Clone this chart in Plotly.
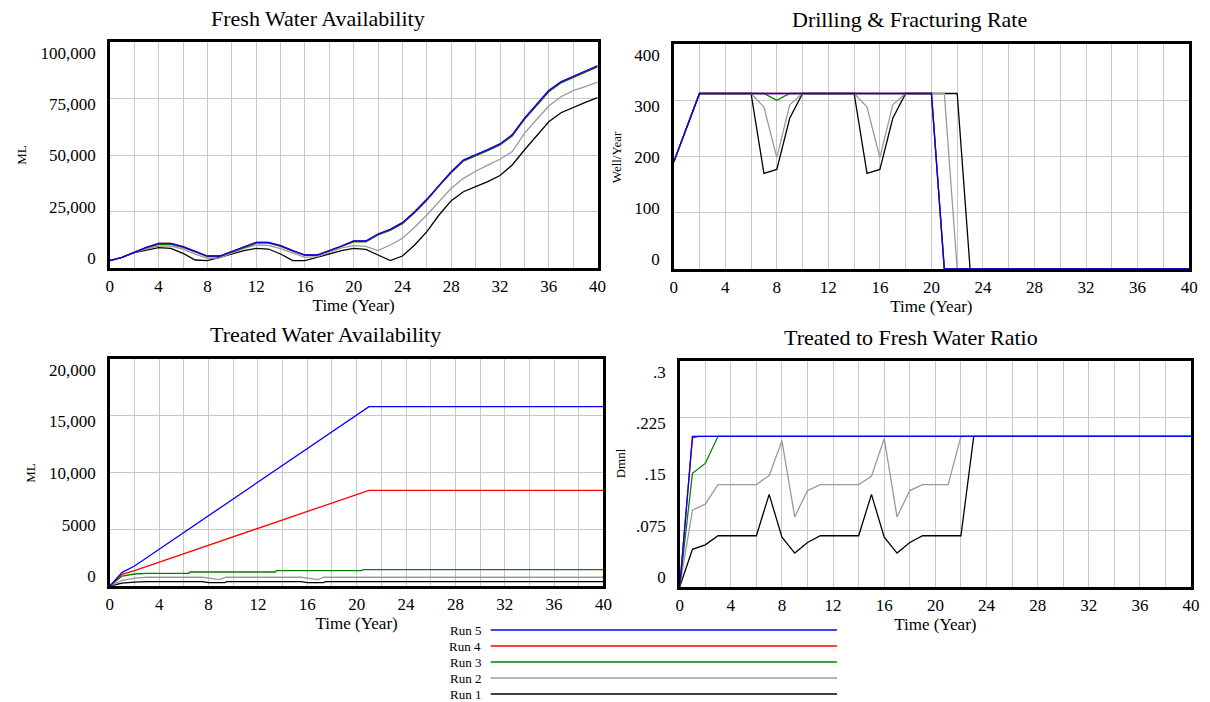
import plotly.graph_objects as go

W, H = 1210, 702
FONT = "Liberation Serif, Times New Roman, serif"

# ---------------- data ----------------
run_names = ["Run 1", "Run 2", "Run 3", "Run 4", "Run 5"]
run_colors = ["#000000", "#9a9a9a", "#008000", "#ff0000", "#0000ff"]

years = [0, 1, 2, 3, 4, 5, 6, 7, 8, 9, 10, 11, 12, 13, 14, 15, 16, 17, 18, 19, 20,
         21, 22, 23, 24, 25, 26, 27, 28, 29, 30, 31, 32, 33, 34, 35, 36, 37, 38, 39, 40]

# Fresh Water Availability (ML), yearly
fresh_run5 = [3250, 4720, 6930, 9150, 10920, 10920, 9440, 7230, 5310, 5310, 7230, 9440, 11360, 11360,
              9880, 7670, 5750, 5750, 7670, 9735, 11950, 11950, 15045, 17110, 20060, 24930, 30390,
              36730, 42630, 47800, 50000, 52400, 54900, 58900, 66200, 72300, 78500, 82400, 84700,
              87000, 89500]
fresh_run4 = fresh_run5
fresh_run3 = [3250, 4720, 6930, 9000, 10470, 10470, 9100, 7000, 5050, 5050, 7050, 9200, 11000, 11000,
              9600, 7450, 5600, 5600, 7500, 9500, 11600, 11600, 14600, 16650, 19600, 24450, 29900,
              36250, 42150, 47300, 49500, 51900, 54400, 58400, 65700, 71800, 78000, 81900, 84200,
              86500, 89000]
fresh_run2 = [3250, 4720, 6800, 8500, 9735, 9735, 8300, 6100, 4280, 4500, 6600, 8700, 10180, 10000,
              8600, 6500, 4700, 5000, 7000, 8900, 9880, 9590, 7670, 10180, 13130, 18000, 23450,
              29340, 35260, 39680, 42800, 45500, 48100, 51500, 59600, 65700, 71700, 75800, 78500,
              80300, 82200]
fresh_run1 = [3250, 4720, 6800, 7965, 8990, 8700, 6490, 3540, 3250, 4720, 6200, 7670, 8700, 8400,
              6200, 3250, 3250, 4720, 6200, 7670, 8700, 8260, 5750, 3250, 5310, 10180, 16080,
              23450, 29780, 33760, 35980, 38200, 40900, 45600, 52200, 58500, 64700, 68700, 71100,
              73300, 75400]

# Drilling & Fracturing Rate (Well/Year), breakpoints
drill_t5 = [0, 2, 20, 21, 40]
drill_run5 = [190, 312, 312, 0, 0]
drill_t4 = [0, 2, 20, 21, 40]
drill_run4 = [190, 312, 312, 0, 0]
drill_t3 = [0, 2, 7, 8, 9, 20, 21, 40]
drill_run3 = [190, 312, 312, 300, 312, 312, 0, 0]
drill_t2 = [0, 2, 6, 7, 8, 9, 10, 14, 15, 16, 17, 18, 21, 22, 40]
drill_run2 = [190, 312, 312, 288, 198, 292, 312, 312, 288, 198, 292, 312, 312, 0, 0]
drill_t1 = [0, 2, 6, 7, 8, 9, 10, 14, 15, 16, 17, 18, 22, 23, 40]
drill_run1 = [190, 312, 312, 170, 177, 268, 312, 312, 170, 177, 268, 312, 312, 0, 0]

# Treated Water Availability (ML), breakpoints
treat_t5 = [0, 1, 2, 14, 21, 40]
treat_run5 = [0, 1200, 1760, 10630, 15800, 15800]
treat_t4 = [0, 1, 2, 21, 40]
treat_run4 = [0, 1030, 1350, 8430, 8430]
treat_t3 = [0, 1, 2, 3, 6.4, 6.5, 13.4, 13.5, 20.4, 20.5, 40]
treat_run3 = [0, 880, 1057, 1120, 1120, 1233, 1233, 1350, 1350, 1440, 1440]
treat_t2 = [0, 1, 2, 3, 7.5, 8.9, 9.4, 15.5, 16.9, 17.3, 40]
treat_run2 = [0, 500, 700, 770, 770, 560, 770, 770, 560, 770, 770]
treat_t1 = [0, 1, 2, 3, 7.5, 8, 9.3, 9.5, 15.5, 16, 17.3, 17.5, 40]
treat_run1 = [0, 250, 340, 380, 380, 300, 300, 380, 380, 300, 300, 380, 380]

# Treated to Fresh Water Ratio (Dmnl), breakpoints
ratio_t5 = [0, 1, 40]
ratio_run5 = [0, 0.2, 0.2]
ratio_t4 = [0, 1, 1.5, 40]
ratio_run4 = [0, 0.198, 0.2, 0.2]
ratio_t3 = [0, 1, 2, 3, 40]
ratio_run3 = [0, 0.151, 0.164, 0.2, 0.2]
ratio_t2 = [0, 1, 2, 3, 6, 7, 8, 9, 10, 11, 14, 15, 16, 17, 18, 19, 21, 22, 40]
ratio_run2 = [0, 0.102, 0.110, 0.136, 0.136, 0.148, 0.194, 0.093, 0.128, 0.136, 0.136, 0.147,
              0.197, 0.093, 0.128, 0.136, 0.136, 0.2, 0.2]
ratio_t1 = [0, 1, 2, 3, 6, 7, 8, 9, 10, 11, 14, 15, 16, 17, 18, 19, 22, 23, 40]
ratio_run1 = [0, 0.050, 0.056, 0.068, 0.068, 0.123, 0.066, 0.045, 0.059, 0.068, 0.068, 0.123,
              0.066, 0.045, 0.059, 0.068, 0.068, 0.2, 0.2]

titles = ["Fresh Water Availability", "Drilling & Fracturing Rate",
          "Treated Water Availability", "Treated to Fresh Water Ratio"]
y_titles = ["ML", "Well/Year", "ML", "Dmnl"]
y_ticks = [[0, 25000, 50000, 75000, 100000], [0, 100, 200, 300, 400],
           [0, 5000, 10000, 15000, 20000], [0, 0.075, 0.15, 0.225, 0.3]]
y_ticktext = [["0", "25,000", "50,000", "75,000", "100,000"], ["0", "100", "200", "300", "400"],
              ["0", "5000", "10,000", "15,000", "20,000"], ["0", ".075", ".15", ".225", ".3"]]
x_title = "Time (Year)"

panels = [
    [(years, fresh_run1), (years, fresh_run2), (years, fresh_run3), (years, fresh_run4), (years, fresh_run5)],
    [(drill_t1, drill_run1), (drill_t2, drill_run2), (drill_t3, drill_run3), (drill_t4, drill_run4), (drill_t5, drill_run5)],
    [(treat_t1, treat_run1), (treat_t2, treat_run2), (treat_t3, treat_run3), (treat_t4, treat_run4), (treat_t5, treat_run5)],
    [(ratio_t1, ratio_run1), (ratio_t2, ratio_run2), (ratio_t3, ratio_run3), (ratio_t4, ratio_run4), (ratio_t5, ratio_run5)],
]

# ---------------- layout geometry (pixels) ----------------
boxes = [(107, 600, 42, 268), (677, 1198, 44, 269), (107, 606, 359, 586), (683, 1200, 361, 587)]
title_pos = [(317, 18), (915, 20), (325, 335), (917, 337)]
ytitle_pos = [(18, 155), (619, 157), (26, 473), (623, 463)]

GRID = "#c8c8c8"
fig = go.Figure()
layout = dict(width=W, height=H, margin=dict(l=0, r=0, t=0, b=0), autosize=False,
              paper_bgcolor="white", plot_bgcolor="white", showlegend=False,
              font=dict(family=FONT, color="black"))
annotations = []
shapes = []

for i in range(4):
    n = i + 1
    xs = "x" if n == 1 else f"x{n}"
    ys = "y" if n == 1 else f"y{n}"
    yl = f"y{n + 4}"
    xkey = "xaxis" if n == 1 else f"xaxis{n}"
    ykey = "yaxis" if n == 1 else f"yaxis{n}"
    lkey = f"yaxis{n + 4}"
    x0, x1, y0, y1 = boxes[i]
    ymin, ymax = y_ticks[i][0], y_ticks[i][-1]
    span = ymax - ymin

    for k, (t, v) in enumerate(panels[i]):
        fig.add_trace(go.Scatter(x=t, y=v, mode="lines", name=run_names[k],
                                 line=dict(color=run_colors[k], width=1.3),
                                 xaxis=xs, yaxis=ys, hoverinfo="skip"))
    fig.add_trace(go.Scatter(x=[], y=[], mode="lines", xaxis=xs, yaxis=yl,
                             showlegend=False, hoverinfo="skip"))

    layout[xkey] = dict(domain=[x0 / W, x1 / W], anchor=ys, range=[0, 40],
                        tick0=0, dtick=4, ticks="", showgrid=True, gridcolor=GRID, gridwidth=1.3,
                        minor=dict(dtick=2, tick0=0, showgrid=True, gridcolor=GRID, gridwidth=1.3),
                        showline=True, mirror=True, linecolor="black", linewidth=2.5,
                        zeroline=False, tickfont=dict(size=17), ticklabelstandoff=1,
                        title=dict(text=x_title, font=dict(size=17), standoff=0))
    layout[ykey] = dict(domain=[1 - y1 / H, 1 - y0 / H], anchor=xs, range=[ymin, ymax],
                        tickvals=y_ticks[i], showticklabels=False, ticks="",
                        showgrid=True, gridcolor=GRID, gridwidth=1.3,
                        showline=True, mirror=True, linecolor="black", linewidth=2.5,
                        zeroline=False)
    layout[lkey] = dict(overlaying=ys, anchor=xs, side="left",
                        range=[ymin - 0.048 * span, ymax + 0.053 * span],
                        tickvals=y_ticks[i], ticktext=y_ticktext[i], ticks="",
                        showgrid=False, showline=False, zeroline=False,
                        tickfont=dict(size=17), ticklabelstandoff=13)
    tx, ty = title_pos[i]
    annotations.append(dict(text=titles[i], x=tx / W, y=1 - ty / H, xref="paper", yref="paper",
                            xanchor="center", yanchor="middle", showarrow=False,
                            font=dict(size=22, family=FONT, color="black")))
    ax, ay = ytitle_pos[i]
    annotations.append(dict(text=y_titles[i], x=ax / W, y=1 - ay / H, xref="paper", yref="paper",
                            xanchor="center", yanchor="middle", showarrow=False, textangle=-90,
                            font=dict(size=13, family=FONT, color="black")))

# legend (text left, long line right)
for j, k in enumerate([4, 3, 2, 1, 0]):
    ly = 630 + 16 * j
    shapes.append(dict(type="line", xref="paper", yref="paper", x0=492 / W, x1=842 / W,
                       y0=1 - ly / H, y1=1 - ly / H, line=dict(color=run_colors[k], width=1.5)))
    annotations.append(dict(text=run_names[k], x=484 / W, y=1 - ly / H, xref="paper", yref="paper",
                            xanchor="right", yanchor="middle", showarrow=False,
                            font=dict(size=13, family=FONT, color="black")))

layout["annotations"] = annotations
layout["shapes"] = shapes
fig.update_layout(**layout)
fig.write_html("out.html", config={"displayModeBar": False},
               post_script="document.body.style.margin='0px';")
